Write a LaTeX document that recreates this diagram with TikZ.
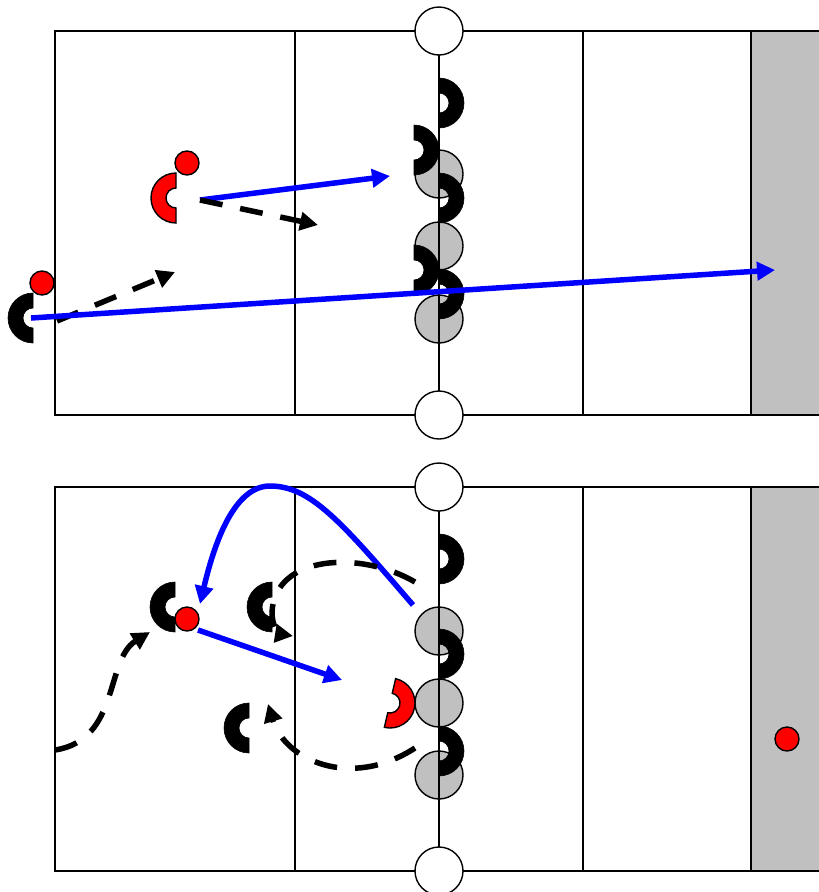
\documentclass[tikz,border=0pt]{standalone}
\usepackage{tikz}
\usetikzlibrary{calc,arrows.meta}
\definecolor{passc}{HTML}{0000FF}
\definecolor{ballc}{HTML}{FF0000}
\definecolor{zonec}{HTML}{C0C0C0}
\tikzset{
  pass/.style={-{Triangle[length=18pt,width=18pt]},line width=5.5pt,passc},
  run/.style={-{Triangle[length=18pt,width=18pt]},line width=5.5pt,black,dash pattern=on 23pt off 18pt},
  court/.style={draw=black,line width=2pt},
  post/.style={draw=black,line width=1.4pt,fill=white},
  blk/.style={draw=black,line width=1.4pt,fill=zonec},
  ball/.style={draw=black,line width=1.4pt,fill=ballc},
  plb/.style={fill=black,draw=black,line width=0.6pt},
  plr/.style={fill=ballc,draw=black,line width=1.4pt}
}
% half ring player: centre, start angle, style
\newcommand{\halfring}[3]{%
  \filldraw[#3] ($(#1)+(#2:25)$) arc[start angle=#2,end angle=#2+180,radius=25]
    -- ($(#1)+(#2+180:10)$) arc[start angle=#2+180,end angle=#2,radius=10] -- cycle;}

\begin{document}
\begin{tikzpicture}[x=1pt,y=-1pt]
\useasboundingbox (0,0) rectangle (819,892);
% zones
\fill[zonec] (751,31) rectangle (819,415);
\fill[zonec] (751,487) rectangle (819,871);
\foreach \yt/\yb in {31/415,487/871}{
  \draw[court] (55,\yt) rectangle (830,\yb);
  \foreach \xl in {295,583,751} {\draw[court] (\xl,\yt) -- (\xl,\yb);}
}
% blockers
\foreach \yy in {174,246,319,631,703,775} {\draw[blk] (439,\yy) circle (24);}
\draw[court] (439,31) -- (439,415);
\draw[court] (439,487) -- (439,871);

% top court
\coordinate (pL) at (33,318);
\coordinate (pR) at (176,198);
\halfring{pL}{90}{plb}
\halfring{pR}{90}{plr}
\node[ball,circle,minimum size=24pt,inner sep=0pt] (bL) at (42,283) {};
\node[ball,circle,minimum size=24pt,inner sep=0pt] (bR) at (187,163) {};
\foreach \xx/\yy in {439/103,414/150,439/198,414/270,439/294} {\halfring{\xx,\yy}{-90}{plb}}

\coordinate (sR) at (200,200);
\coordinate (tR) at (390,176);
\coordinate (uR) at (318,225);
\coordinate (sL) at (57,321);
\coordinate (uL) at (175,272);
\coordinate (tL) at (775,270);
\draw[pass] (sR) -- (tR);
\draw[run] (sR) -- (uR);
\draw[run] (sL) -- (uL);
\draw[pass] ($(pL)+(-2,0)$) -- (tL);

% bottom court
\coordinate (qA) at (175,607);
\coordinate (qB) at (272,607);
\coordinate (qC) at (249,728);
\coordinate (qR) at (390,703);
\halfring{qA}{90}{plb}
\halfring{qB}{90}{plb}
\halfring{qC}{90}{plb}
\foreach \yy in {559,654,751} {\halfring{439,\yy}{-90}{plb}}
\halfring{qR}{-77}{plr}
\node[ball,circle,minimum size=24pt,inner sep=0pt] (bA) at (187,619) {};
\node[ball,circle,minimum size=24pt,inner sep=0pt] (bZ) at (787,739) {};

\coordinate (sN) at (413,605);
\coordinate (kN) at (270,486);
\coordinate (tN) at (200,604);
\coordinate (sA) at (198,630);
\coordinate (tA) at (342,680);
\coordinate (sW) at (55,750);
\coordinate (tW) at (150,632);
\coordinate (sB) at (415,582);
\coordinate (kB) at (272,612);
\coordinate (tB) at (293,636);
\coordinate (sC) at (415,748);
\coordinate (tC) at (268,704);
\draw[pass] (sN) .. controls (340,520) and (310,486) .. (kN)
  .. controls (235,486) and (215,540) .. (tN);
\draw[pass] (sA) -- (tA);
\draw[run] (sW) .. controls (120,740) and (105,660) .. (tW);
\draw[run] (sB) .. controls (360,550) and (275,555) .. (kB)
  .. controls (272,628) and (280,634) .. (tB);
\draw[run] (sC) .. controls (350,790) and (285,760) .. (tC);

% posts
\foreach \yy in {31,415,487,871} {\draw[post] (439,\yy) circle (24);}
\end{tikzpicture}
\end{document}
